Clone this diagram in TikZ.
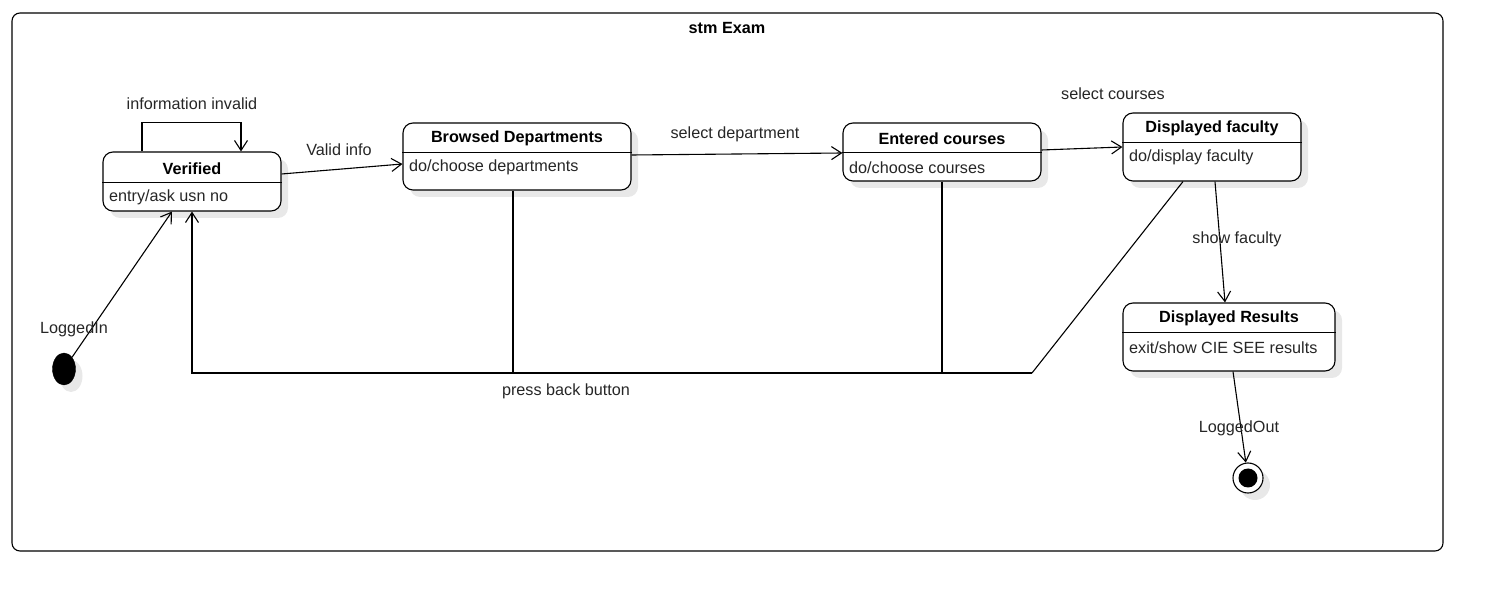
\documentclass[tikz,border=0pt]{standalone}
\usepackage{fontspec}
\setmainfont{Liberation Sans}
\usetikzlibrary{arrows.meta,shadows,shapes.geometric}
\begin{document}
\begin{tikzpicture}[x=1pt,y=-1pt,
  font=\fontsize{16.2}{19}\selectfont,
  every node/.style={text=black!85},
  shad/.style={drop shadow={shadow xshift=7pt,shadow yshift=-7pt,fill=black!9,opacity=1}},
  statebox/.style={draw,line width=1.1pt,rounded corners=10pt,fill=white,shad,inner sep=0pt},
  ttl/.style={font=\fontsize{16.2}{19}\selectfont\bfseries,text=black,inner sep=0pt,yshift=-1.5pt},
  body/.style={anchor=west,inner sep=0pt,yshift=-1.5pt},
  lbl/.style={inner sep=0pt,yshift=-1.5pt},
  conn/.style={line width=1.1pt},
  arr/.style={line width=1.1pt,-{Straight Barb[length=10pt,width=13pt,line width=1.1pt]}}
]
\useasboundingbox (0,0) rectangle (1492,601);

% frame
\node[draw,line width=1.1pt,rounded corners=8pt,minimum width=1431pt,minimum height=538pt,inner sep=0pt] (frame) at (727.5,282) {};
\node[ttl] (ftitle) at (727,27) {stm Exam};

% states: box, separator, title, body
\node[statebox,minimum width=178pt,minimum height=59pt] (ver) at (192,181.5) {};
\draw[line width=1.1pt] ([yshift=-31pt]ver.north west) -- ([yshift=-31pt]ver.north east);
\node[ttl] (vert) at (192,167) {Verified};
\node[body] (verb) at (109,196) {entry/ask usn no};

\node[statebox,minimum width=228pt,minimum height=67pt] (bro) at (517,156.5) {};
\draw[line width=1.1pt] ([yshift=-30pt]bro.north west) -- ([yshift=-30pt]bro.north east);
\node[ttl] (brot) at (517,137) {Browsed Departments};
\node[body] (brob) at (409,166) {do/choose departments};

\node[statebox,minimum width=198pt,minimum height=58pt] (ent) at (942,152) {};
\draw[line width=1.1pt] ([yshift=-30pt]ent.north west) -- ([yshift=-30pt]ent.north east);
\node[ttl] (entt) at (942,137) {Entered courses};
\node[body] (entb) at (849,166) {do/choose courses};

\node[statebox,minimum width=178pt,minimum height=68pt] (fac) at (1212,147) {};
\draw[line width=1.1pt] ([yshift=-30pt]fac.north west) -- ([yshift=-30pt]fac.north east);
\node[ttl] (fact) at (1212,127) {Displayed faculty};
\node[body] (facb) at (1129,156) {do/display faculty};

\node[statebox,minimum width=212pt,minimum height=68pt] (res) at (1229,337) {};
\draw[line width=1.1pt] ([yshift=-30pt]res.north west) -- ([yshift=-30pt]res.north east);
\node[ttl] (rest) at (1229,317) {Displayed Results};
\node[body] (resb) at (1129,346) {exit/show CIE SEE results};

% pseudo states
\node[ellipse,fill=black,draw=black,minimum width=23pt,minimum height=32pt,inner sep=0pt,shad] (init) at (64,369) {};
\node[circle,draw=black,line width=1.1pt,fill=white,minimum size=30pt,inner sep=0pt,shad,
      path picture={\fill[black] (path picture bounding box.center) circle (9.5pt);}] (final) at (1248,478) {};

% back junction coordinates
\coordinate (bj) at (1032,373);
\coordinate (bb) at (513,373);

% transitions
\draw[arr] (init) -- ([xshift=-20pt]ver.south);
\node[lbl] (l1) at (74,328) {LoggedIn};

\draw[arr] ([xshift=-50pt]ver.north) -- ++(0,-29) -| ([xshift=49pt]ver.north);
\node[lbl] (l2) at (192,102) {information invalid};

\draw[arr] ([yshift=7.5pt]ver.east) -- ([yshift=-7.5pt]bro.west);
\node[lbl] (l3) at (339,148) {Valid info};

\draw[arr] ([yshift=1.5pt]bro.east) -- ([yshift=-1pt]ent.west);
\node[lbl] (l4) at (735,133) {select department};

\draw[arr] ([yshift=2pt]ent.east) -- (fac.west);
\node[lbl] (l5) at (1113,92) {select courses};

\draw[arr] ([xshift=3pt]fac.south) -- ([xshift=-4pt]res.north);
\node[lbl] (l6) at (1237,238) {show faculty};

\draw[arr] ([xshift=4pt]res.south) -- (final);
\node[lbl] (l7) at (1239,427) {LoggedOut};

\draw[conn] (bro.south -| bb) -- (bb);
\draw[conn] (ent.south) -- (ent.south |- bj);
\draw[conn] ([xshift=-29pt]fac.south) -- (bj);
\draw[arr] (bj) -| (ver.south);
\node[lbl] (l8) at (566,390) {press back button};
\end{tikzpicture}
\end{document}
